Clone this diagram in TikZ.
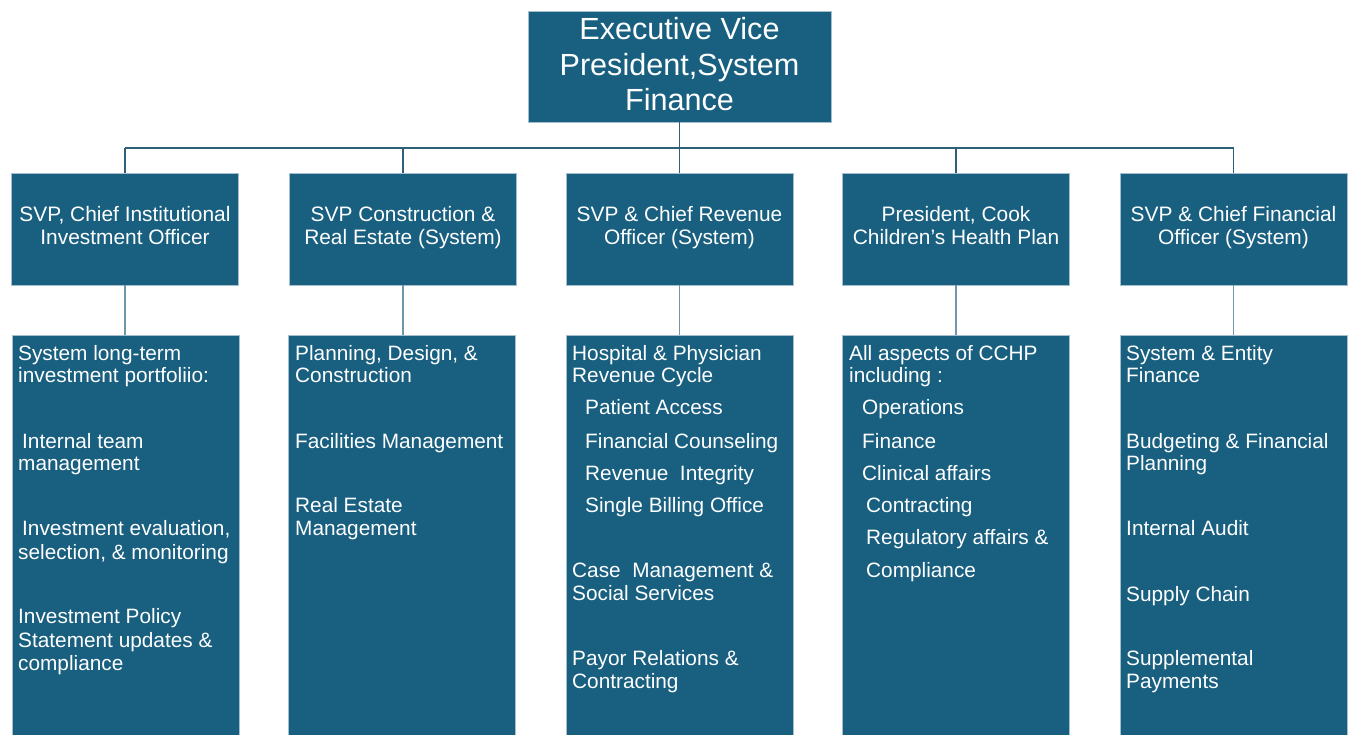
\documentclass[tikz,border=0pt]{standalone}
\usepackage{fontspec}
\setmainfont{Liberation Sans}
\usepackage[HTML]{xcolor}
\usepackage{tikz}
\usetikzlibrary{calc}
\definecolor{boxblue}{HTML}{185F80}
\definecolor{boxedge}{HTML}{A3BFCE}
\definecolor{linkdark}{HTML}{2F607A}
\definecolor{linklight}{HTML}{6F98AF}

\begin{document}
\begin{tikzpicture}[x=1pt, y=-1pt,
  box/.style={draw=boxedge, line width=0.8pt, fill=boxblue, text=white, inner sep=0pt},
  head/.style={box, minimum width=227pt, minimum height=112pt, align=center,
    font=\fontsize{20.9}{22.5}\selectfont, execute at begin node=\strut, execute at end node=\strut},
  duty/.style={box, minimum width=227pt, minimum height=410pt},
  item/.style={anchor=base west, text=white, inner sep=0pt, font=\fontsize{20.8}{22.5}\selectfont},
  link/.style={draw=linkdark, line width=1.5pt},
  sublink/.style={draw=linklight, line width=1.5pt}]
% Page
\fill[white] (0,0) rectangle (1348,734);
\useasboundingbox (0,0) rectangle (1348,734);
% Top box
\node[box, minimum width=303pt, minimum height=111pt, align=center, font=\fontsize{30.6}{35.5}\selectfont,
  execute at end node={\rule[-5pt]{0pt}{5pt}}]
  (evp) at (679.5,66.5) {Executive Vice\\President,System\\Finance};
% Second level
\node[head] (h1) at (125,229) {SVP, Chief Institutional\\Investment Officer};
\node[head] (h2) at (403,229) {SVP Construction \&\\Real Estate (System)};
\node[head] (h3) at (679.5,229) {SVP \& Chief Revenue\\Officer (System)};
\node[head] (h4) at (956,229) {President, Cook\\Children’s Health Plan};
\node[head] (h5) at (1233.5,229) {SVP \& Chief Financial\\Officer (System)};
% Duty boxes (run off the bottom)
\node[duty] (d1) at (126,540) {};
\node[duty] (d2) at (402,540) {};
\node[duty] (d3) at (679.5,540) {};
\node[duty] (d4) at (956,540) {};
\node[duty] (d5) at (1233.5,540) {};
% Connectors
\coordinate (bus) at (679.5,148);
\draw[link] (evp.south) -- (bus);
\draw[link] (h1.north |- bus) -- (h5.north |- bus);
\foreach \i in {1,...,5}
  \draw[link] (h\i.north |- bus) -- (h\i.north);
\foreach \i in {1,...,5}
  \draw[sublink] (h\i.south) -- (h\i.south |- d\i.north);
% Duties, column 1
\foreach \x/\y/\t in {18/360/{System long-term}, 18/382/{investment portfoliio:},
    22/448/{Internal team}, 18/470/{management},
    22/535/{Investment evaluation,}, 18/559/{selection, \& monitoring},
    18/623/{Investment Policy}, 18/647/{Statement updates \&}, 18/670/{compliance}}
  \node[item] (c1-\y) at (\x,\y) {\t};
% Duties, column 2
\foreach \x/\y/\t in {295/360/{Planning, Design, \&}, 295/382/{Construction},
    295/448/{Facilities Management},
    295/512/{Real Estate}, 295/535/{Management}}
  \node[item] (c2-\y) at (\x,\y) {\t};
% Duties, column 3
\foreach \x/\y/\t in {572/360/{Hospital \& Physician}, 572/382/{Revenue Cycle},
    585/414/{Patient Access}, 585/448/{Financial Counseling},
    585/480/{Revenue\ \ Integrity}, 585/512/{Single Billing Office},
    572/577/{Case\ \ Management \&}, 572/600/{Social Services},
    572/665/{Payor Relations \&}, 572/688/{Contracting}}
  \node[item] (c3-\y) at (\x,\y) {\t};
% Duties, column 4
\foreach \x/\y/\t in {849/360/{All aspects of CCHP}, 849/382/{including :},
    862/414/{Operations}, 862/448/{Finance}, 862/480/{Clinical affairs},
    866/512/{Contracting}, 866/544/{Regulatory affairs \&}, 866/577/{Compliance}}
  \node[item] (c4-\y) at (\x,\y) {\t};
% Duties, column 5
\foreach \x/\y/\t in {1126/360/{System \& Entity}, 1126/382/{Finance},
    1126/448/{Budgeting \& Financial}, 1126/470/{Planning},
    1126/535/{Internal Audit}, 1126/601/{Supply Chain},
    1126/665/{Supplemental}, 1126/688/{Payments}}
  \node[item] (c5-\y) at (\x,\y) {\t};
\end{tikzpicture}
\end{document}
